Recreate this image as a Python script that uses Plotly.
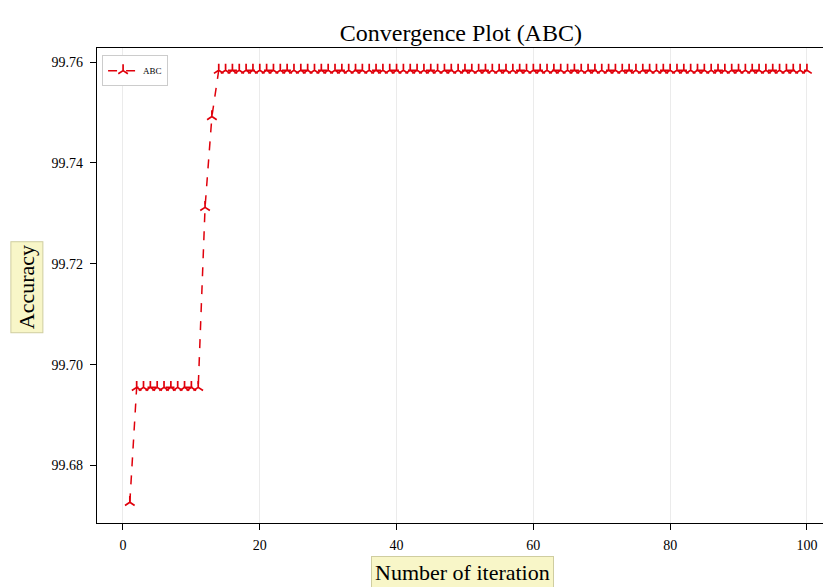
import plotly.graph_objects as go

iterations = list(range(1, 101))
accuracy = ([99.6727] + [99.6955] * 10 + [99.7312, 99.7492] + [99.7584] * 87)
x_ticks = [0, 20, 40, 60, 80, 100]
y_ticks = [99.68, 99.70, 99.72, 99.74, 99.76]
y_tick_text = ["99.68", "99.70", "99.72", "99.74", "99.76"]

serif = "Liberation Serif, Times New Roman, serif"

fig = go.Figure()
fig.add_trace(go.Scatter(
    x=iterations, y=accuracy, mode="lines+markers", name="ABC",
    line=dict(color="#e0000b", width=1.5, dash="dash"),
    marker=dict(symbol="y-up", size=8, color="#e0000b",
                line=dict(color="#e0000b", width=1.7)),
))

fig.update_layout(
    width=823, height=587,
    margin=dict(l=97, r=0, t=48, b=64),
    paper_bgcolor="white", plot_bgcolor="white",
    font=dict(family=serif, color="black", size=13),
    title=dict(text="Convergence Plot (ABC)", x=0.56, xanchor="center",
               y=1 - 33 / 587, yanchor="middle",
               font=dict(family=serif, size=24, color="black")),
    showlegend=True,
    legend=dict(x=0.007, y=0.985, xanchor="left", yanchor="top",
                bgcolor="white", bordercolor="#cccccc", borderwidth=1,
                font=dict(family=serif, size=9), itemwidth=30,
                tracegroupgap=0),
    xaxis=dict(range=[-3.8, 102.35], tickvals=x_ticks,
               showgrid=True, gridcolor="#ebebeb", gridwidth=1,
               zeroline=False, showline=True, linecolor="black", linewidth=1.2,
               mirror=True, ticks="outside", ticklen=6, tickcolor="black",
               ticklabelstandoff=3,
               tickfont=dict(family=serif, size=14)),
    yaxis=dict(range=[99.6686, 99.7628], tickvals=y_ticks, ticktext=y_tick_text,
               showgrid=False, zeroline=False, showline=True, linecolor="black",
               linewidth=1.2, ticks="outside", ticklen=6, tickcolor="black",
               ticklabelstandoff=4,
               tickfont=dict(family=serif, size=14)),
    annotations=[
        dict(text="Number of iteration", xref="paper", yref="paper",
             x=0.503, y=-0.105, xanchor="center", yanchor="middle",
             showarrow=False, font=dict(family=serif, size=22, color="black"),
             bgcolor="#f8f6c8", bordercolor="#cfcda0", borderwidth=1, borderpad=3),
        dict(text="Accuracy", xref="paper", yref="paper",
             x=-0.096, y=0.497, xanchor="center", yanchor="middle", textangle=-90,
             showarrow=False, font=dict(family=serif, size=22, color="black"),
             bgcolor="#f8f6c8", bordercolor="#cfcda0", borderwidth=1, borderpad=3),
    ],
)

fig.write_html("out.html", config={"displayModeBar": False},
               post_script="document.body.style.margin='0';document.body.style.padding='0';")
